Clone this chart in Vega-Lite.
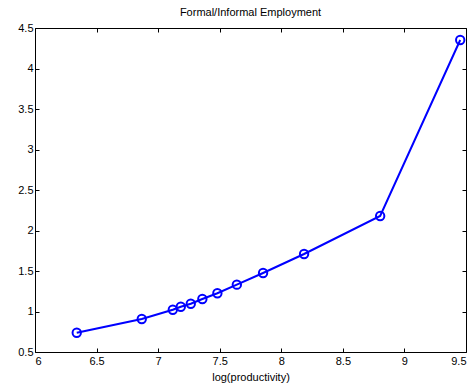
{
  "$schema": "https://vega.github.io/schema/vega-lite/v6.json",
  "width": 431,
  "height": 324,
  "autosize": {"type": "none"},
  "padding": {"left": 35, "top": 28, "right": 8, "bottom": 38},
  "background": "white",
  "title": {"text": "Formal/Informal Employment", "font": "Liberation Sans", "fontSize": 11, "fontWeight": "normal", "color": "black", "offset": 4},
  "config": {
    "view": {"stroke": "black", "strokeWidth": 1},
    "axis": {"labelFont": "Liberation Sans", "labelFontSize": 11, "labelColor": "black", "titleFont": "Liberation Sans", "titleFontSize": 11, "titleFontWeight": "normal", "titleColor": "black", "grid": false, "domain": false, "tickColor": "black", "tickSize": -4, "tickWidth": 1}
  },
  "data": {"values": [
    {"x": 6.339, "y": 0.738},
    {"x": 6.867, "y": 0.907},
    {"x": 7.119, "y": 1.022},
    {"x": 7.184, "y": 1.059},
    {"x": 7.265, "y": 1.096},
    {"x": 7.359, "y": 1.154},
    {"x": 7.481, "y": 1.225},
    {"x": 7.639, "y": 1.331},
    {"x": 7.852, "y": 1.475},
    {"x": 8.185, "y": 1.71},
    {"x": 8.803, "y": 2.179},
    {"x": 9.453, "y": 4.352}
  ]},
  "layer": [
    {
      "mark": {"type": "line", "color": "#0000ff", "strokeWidth": 2},
      "encoding": {
        "x": {"field": "x", "type": "quantitative", "scale": {"domain": [6, 9.5], "nice": false, "zero": false},
              "axis": {"values": [6, 6.5, 7, 7.5, 8, 8.5, 9, 9.5], "format": "~g", "title": "log(productivity)", "labelPadding": 7, "titlePadding": 5}},
        "y": {"field": "y", "type": "quantitative", "scale": {"domain": [0.5, 4.5], "nice": false, "zero": false},
              "axis": {"values": [0.5, 1, 1.5, 2, 2.5, 3, 3.5, 4, 4.5], "format": "~g", "title": null, "labelPadding": 6}}
      }
    },
    {
      "mark": {"type": "point", "shape": "circle", "filled": false, "color": "#0000ff", "size": 70, "strokeWidth": 2, "opacity": 1},
      "encoding": {
        "x": {"field": "x", "type": "quantitative", "scale": {"domain": [6, 9.5], "nice": false, "zero": false},
              "axis": {"orient": "top", "values": [6, 6.5, 7, 7.5, 8, 8.5, 9, 9.5], "labels": false, "title": null}},
        "y": {"field": "y", "type": "quantitative", "scale": {"domain": [0.5, 4.5], "nice": false, "zero": false},
              "axis": {"orient": "right", "values": [0.5, 1, 1.5, 2, 2.5, 3, 3.5, 4, 4.5], "labels": false, "title": null}}
      }
    }
  ],
  "resolve": {"axis": {"x": "independent", "y": "independent"}}
}
